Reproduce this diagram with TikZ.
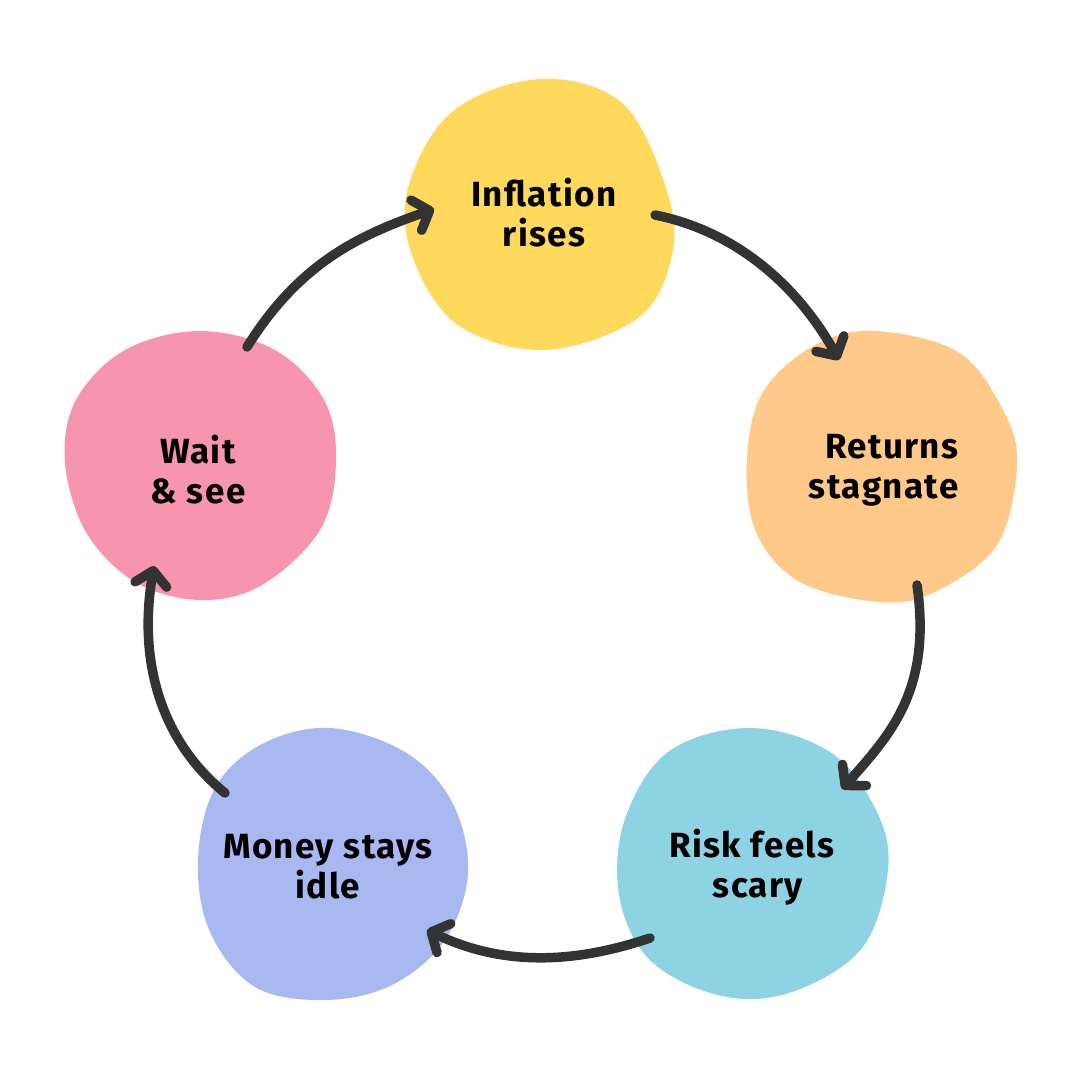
\documentclass[tikz,border=0pt]{standalone}
\usepackage{fontspec}
\setmainfont{Fira Sans}[LetterSpace=4]
\usetikzlibrary{arrows.meta,positioning}
\definecolor{infl}{HTML}{FFD95C}
\definecolor{retn}{HTML}{FFC989}
\definecolor{risk}{HTML}{8DD3E3}
\definecolor{idle}{HTML}{A7B9F0}
\definecolor{wait}{HTML}{F794AE}
\definecolor{ink}{HTML}{333333}
\tikzset{
  blob/.style={fill=#1,draw=none},
  cyc/.style={draw=ink,line width=9.5pt,line cap=round,line join=round,
    -{Straight Barb[round,length=14pt,width=32pt,line width=9.5pt]}},
  lbl/.style={align=center,font=\fontsize{35}{40}\selectfont\bfseries,text=black}
}
\begin{document}
\begin{tikzpicture}[x=1pt,y=-1pt]
\useasboundingbox[fill=white] (0,0) rectangle (1080,1080);

\fill[blob=infl] plot[smooth cycle,tension=0.6] coordinates {(540,79) (622,103) (666,188) (672,255) (638,318) (545,350) (458,325) (413,258) (408,188) (452,112)};
\fill[blob=retn] plot[smooth cycle,tension=0.6] coordinates {(875,331) (958,352) (1003,410) (1017,465) (997,545) (935,592) (880,602) (800,582) (756,532) (747,460) (763,392) (815,345)};
\fill[blob=risk] plot[smooth cycle,tension=0.6] coordinates {(750,728) (830,752) (876,810) (888,870) (862,948) (792,992) (722,996) (652,962) (620,900) (624,822) (668,752)};
\fill[blob=idle] plot[smooth cycle,tension=0.6] coordinates {(330,728) (405,752) (452,802) (468,872) (445,940) (392,985) (325,1000) (255,987) (210,932) (198,860) (215,788) (262,744)};
\fill[blob=wait] plot[smooth cycle,tension=0.6] coordinates {(200,331) (275,350) (324,400) (336,462) (320,530) (262,585) (200,600) (135,582) (86,532) (65,462) (76,400) (125,350)};

\node[lbl] (inflation) at (544,213) {Inflation\\rises};
\node[lbl,align=right,anchor=east] (returns) at (962,470) {Returns\\stagnate};
\node[lbl] (risk) at (752,867) {Risk feels\\\hspace*{12pt}scary};
\node[lbl] (money) at (328,867) {Money stays\\idle};
\node[lbl] (waitsee) at (198,470) {Wait\\\& see};

\coordinate (w1) at (247,347);
\coordinate (i0) at (434,209);
\coordinate (i1) at (655,215);
\coordinate (r0) at (839,360);
\coordinate (r1) at (917,585);
\coordinate (k0) at (842,789);
\coordinate (k1) at (650,938);
\coordinate (m0) at (427,930);
\coordinate (m1) at (225,793);
\coordinate (w0) at (154,566);

\draw[cyc] (w1) .. controls (300,262) and (360,235) .. (i0);
\draw[cyc] (i1) .. controls (740,232) and (800,290) .. (r0);
\draw[cyc] (r1) .. controls (932,690) and (890,735) .. (k0);
\draw[cyc] (k1) .. controls (570,965) and (500,965) .. (m0);
\draw[cyc] (m1) .. controls (160,740) and (138,660) .. (w0);
\end{tikzpicture}
\end{document}
